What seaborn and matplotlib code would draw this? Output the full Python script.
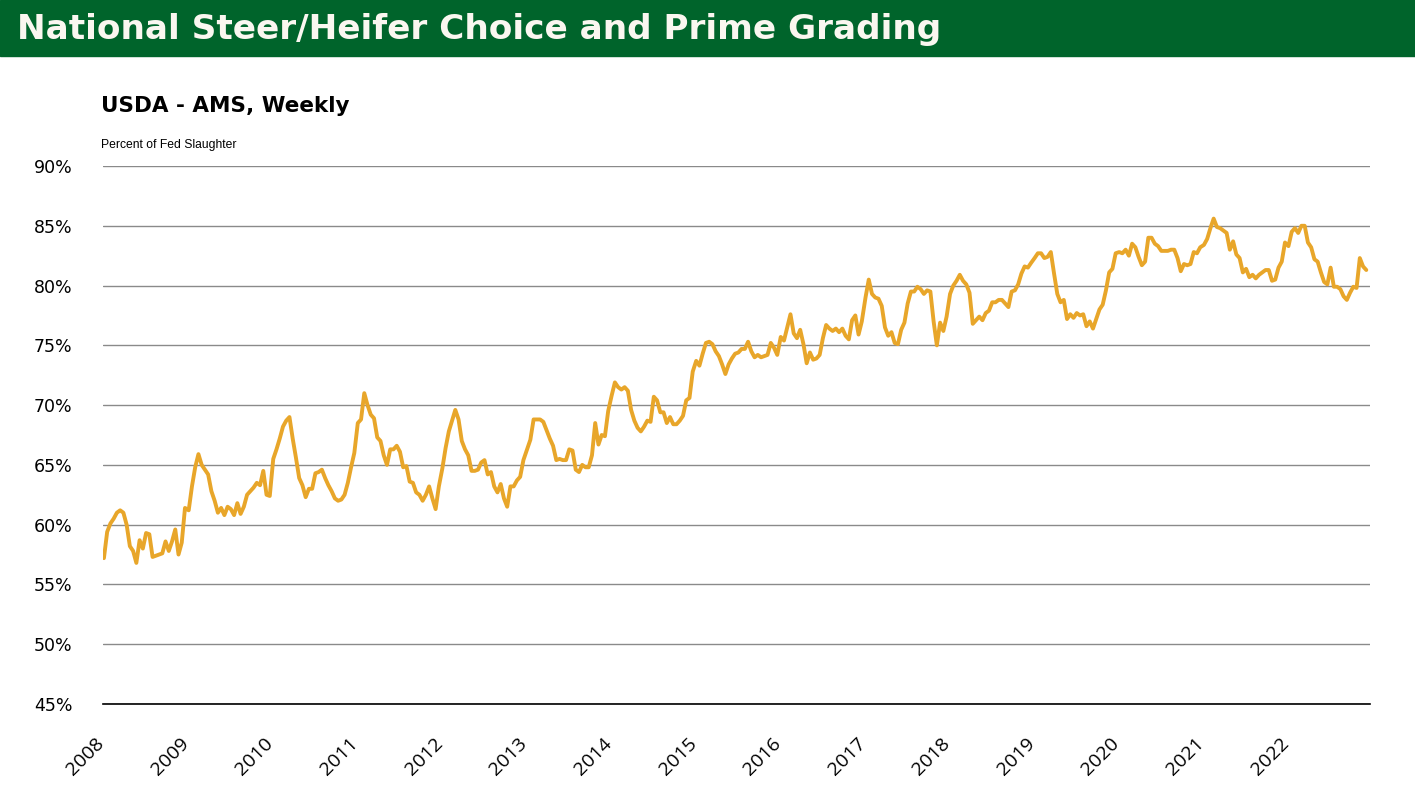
import pandas as pd
import numpy as np
import matplotlib
matplotlib.use("Agg")
import matplotlib.pyplot as plt
import matplotlib.dates as mdates
import matplotlib.transforms as mtransforms
import seaborn as sns

# biweekly readings, percent of fed slaughter graded Choice + Prime
y2008 = [57.2, 59.4, 60.1, 60.5, 61.0, 61.2, 61.0, 60.0, 58.2, 57.8, 56.8, 58.7, 58.0,
         59.3, 59.2, 57.3, 57.4, 57.5, 57.6, 58.6, 57.8, 58.6, 59.6, 57.5, 58.5, 61.4]
y2009 = [61.2, 63.2, 64.8, 65.9, 65.0, 64.6, 64.2, 62.8, 62.0, 61.0, 61.4, 60.8, 61.5,
         61.3, 60.8, 61.8, 60.9, 61.5, 62.5, 62.8, 63.1, 63.5, 63.3, 64.5, 62.5, 62.4]
y2010 = [65.5, 66.3, 67.2, 68.2, 68.7, 69.0, 67.2, 65.6, 63.9, 63.3, 62.3, 63.0, 63.0,
         64.3, 64.4, 64.6, 63.9, 63.3, 62.8, 62.2, 62.0, 62.1, 62.5, 63.5, 64.8, 66.0]
y2011 = [68.5, 68.8, 71.0, 70.0, 69.2, 68.9, 67.3, 67.0, 65.8, 65.0, 66.3, 66.3, 66.6,
         66.1, 64.8, 64.9, 63.6, 63.5, 62.7, 62.5, 62.0, 62.5, 63.2, 62.2, 61.3, 63.2]
y2012 = [64.7, 66.4, 67.8, 68.7, 69.6, 68.8, 67.0, 66.3, 65.8, 64.5, 64.5, 64.6, 65.2,
         65.4, 64.2, 64.4, 63.2, 62.7, 63.4, 62.2, 61.5, 63.2, 63.2, 63.7, 64.0, 65.4]
y2013 = [66.3, 67.1, 68.8, 68.8, 68.8, 68.6, 67.9, 67.2, 66.6, 65.4, 65.5, 65.4, 65.4,
         66.3, 66.2, 64.6, 64.4, 65.0, 64.8, 64.8, 65.8, 68.5, 66.7, 67.5, 67.4, 69.5]
y2014 = [70.8, 71.9, 71.5, 71.3, 71.5, 71.2, 69.6, 68.7, 68.1, 67.8, 68.2, 68.7, 68.6,
         70.7, 70.4, 69.4, 69.4, 68.5, 69.0, 68.4, 68.4, 68.7, 69.1, 70.4, 70.6, 72.8]
y2015 = [73.7, 73.3, 74.3, 75.2, 75.3, 75.1, 74.5, 74.1, 73.4, 72.6, 73.4, 73.9, 74.3,
         74.4, 74.7, 74.7, 75.3, 74.5, 74.0, 74.2, 74.0, 74.1, 74.2, 75.2, 74.8, 74.2]
y2016 = [75.7, 75.4, 76.5, 77.6, 76.0, 75.6, 76.3, 75.1, 73.5, 74.4, 73.8, 73.9, 74.2,
         75.6, 76.7, 76.4, 76.2, 76.4, 76.1, 76.4, 75.8, 75.5, 77.1, 77.5, 75.9, 77.0]
y2017 = [79.0, 80.5, 79.3, 79.0, 78.9, 78.3, 76.5, 75.8, 76.1, 75.2, 75.1, 76.3, 76.9,
         78.5, 79.5, 79.5, 79.9, 79.7, 79.3, 79.6, 79.5, 77.0, 75.0, 76.9, 76.2, 77.4]
y2018 = [79.3, 80.0, 80.4, 80.9, 80.4, 80.1, 79.4, 76.8, 77.1, 77.4, 77.1, 77.7, 77.9,
         78.6, 78.6, 78.8, 78.8, 78.5, 78.2, 79.5, 79.6, 80.1, 81.0, 81.6, 81.5, 81.9]
y2019 = [82.3, 82.7, 82.7, 82.3, 82.4, 82.8, 81.0, 79.3, 78.6, 78.8, 77.2, 77.6, 77.3,
         77.7, 77.5, 77.6, 76.6, 77.0, 76.4, 77.2, 78.0, 78.4, 79.6, 81.1, 81.4, 82.7]
y2020 = [82.8, 82.7, 83.0, 82.5, 83.5, 83.2, 82.4, 81.7, 82.0, 84.0, 84.0, 83.5, 83.3,
         82.9, 82.9, 82.9, 83.0, 83.0, 82.3, 81.2, 81.8, 81.7, 81.8, 82.8, 82.7, 83.2]
y2021 = [83.4, 83.9, 84.8, 85.6, 84.9, 84.8, 84.6, 84.4, 83.0, 83.7, 82.6, 82.3, 81.1,
         81.4, 80.7, 80.9, 80.6, 80.9, 81.1, 81.3, 81.3, 80.4, 80.5, 81.5, 82.0, 83.6]
y2022 = [83.3, 84.5, 84.8, 84.4, 85.0, 85.0, 83.6, 83.2, 82.2, 82.0, 81.1, 80.3, 80.1,
         81.5, 79.9, 79.9, 79.7, 79.1, 78.8, 79.4, 79.9, 79.8, 82.3, 81.6, 81.3]

years = list(range(2008, 2023))
yearly = [y2008, y2009, y2010, y2011, y2012, y2013, y2014, y2015,
          y2016, y2017, y2018, y2019, y2020, y2021, y2022]
y_ticks = [45, 50, 55, 60, 65, 70, 75, 80, 85, 90]

frames = []
for yr, vals in zip(years, yearly):
    d = pd.date_range(f"{yr}-01-05", periods=len(vals), freq="14D")
    frames.append(pd.DataFrame({"date": d, "pct": vals}))
df = pd.concat(frames, ignore_index=True)

sns.set_style("white")
plt.rcParams["font.family"] = ["Liberation Sans", "DejaVu Sans"]
plt.rcParams["text.color"] = "black"
plt.rcParams["xtick.color"] = "black"
plt.rcParams["ytick.color"] = "black"

W, H = 1415, 797
fig = plt.figure(figsize=(W / 100, H / 100), dpi=100)
ax = fig.add_axes([103 / W, 1 - 704 / H, (1370 - 103) / W, (704 - 166) / H])

sns.lineplot(data=df, x="date", y="pct", ax=ax, color="#E8A62A", linewidth=2.8)

ax.set_ylim(45, 90)
ax.set_yticks(y_ticks)
ax.set_yticklabels([f"{t}%" for t in y_ticks], fontsize=12.5, family=["DejaVu Sans"])
ax.set_xlim(pd.Timestamp("2008-01-01"), pd.Timestamp("2022-12-23"))
ax.xaxis.set_major_locator(mdates.YearLocator())
ax.xaxis.set_major_formatter(mdates.DateFormatter("%Y"))
ax.tick_params(axis="y", length=0, pad=22)
ax.tick_params(axis="x", direction="inout", length=12, width=1, color="#333333", pad=16)
shift = mtransforms.ScaledTranslation(-8 / 100, 0, fig.dpi_scale_trans)
for lab in ax.get_xticklabels():
    lab.set_rotation(45)
    lab.set_ha("right")
    lab.set_rotation_mode("anchor")
    lab.set_fontsize(14)
    lab.set_family(["Open Sans", "DejaVu Sans"])
    lab.set_transform(lab.get_transform() + shift)
ax.grid(axis="y", color="#8a8a8a", linewidth=1)
ax.grid(axis="x", visible=False)
for s in ["top", "right", "left"]:
    ax.spines[s].set_visible(False)
ax.spines["bottom"].set_color("black")
ax.spines["bottom"].set_linewidth(1.2)
ax.set_xlabel("")
ax.set_ylabel("")

# header banner
fig.patches.append(plt.Rectangle((0, 1 - 56 / H), 1, 56 / H, transform=fig.transFigure,
                                 color="#00642B", zorder=0))
title = fig.text(17 / W, 1 - 29 / H, "National Steer/Heifer Choice and Prime Grading",
                 color="#FAF7F0", fontsize=25, fontweight="bold", va="center",
                 family=["DejaVu Sans"])
sub = fig.text(101 / W, 1 - 106 / H, "USDA - AMS, Weekly", fontsize=15, fontweight="bold",
               va="center", family=["DejaVu Sans"])
note = fig.text(101 / W, 1 - 145 / H, "Percent of Fed Slaughter", fontsize=9, va="center")

# scale the header texts to the widths they take in the original
renderer = fig.canvas.get_renderer()
for t, target in [(title, 925), (sub, 249), (note, 136)]:
    w = t.get_window_extent(renderer).width
    t.set_fontsize(t.get_fontsize() * target / w)

fig.savefig("out.png", dpi=100)
